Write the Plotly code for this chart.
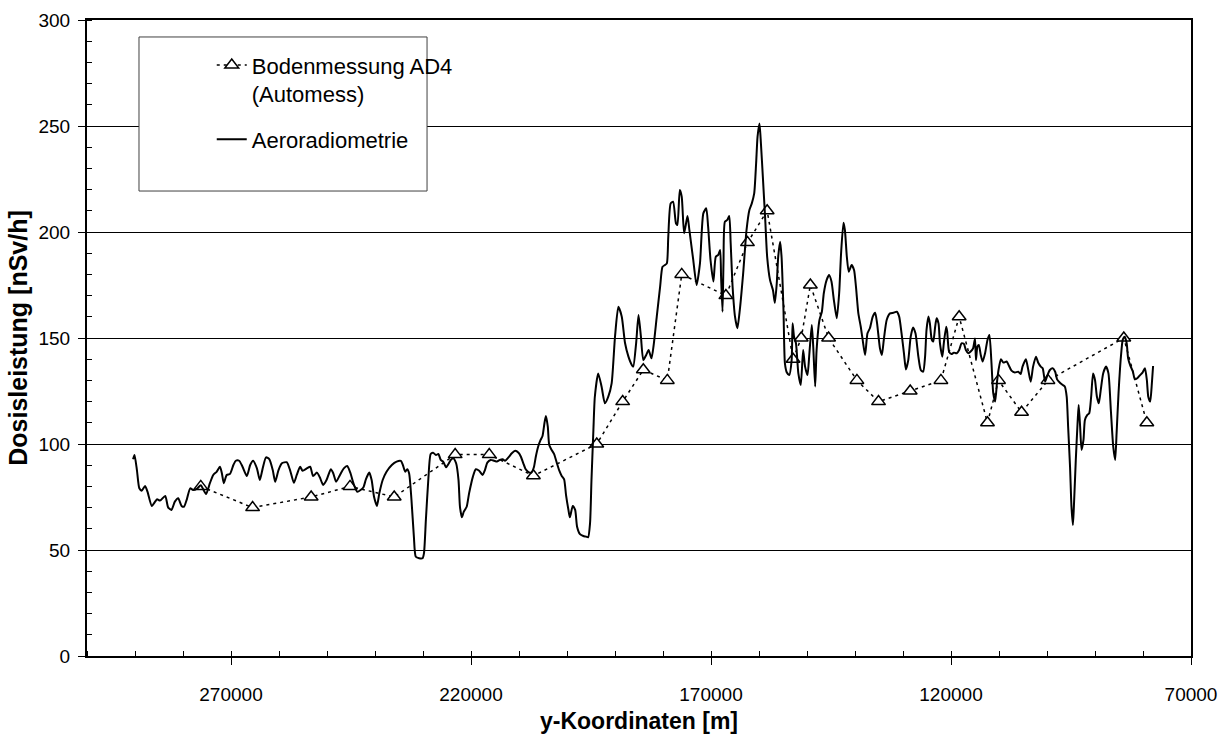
import plotly.graph_objects as go

# Bodenmessung AD4 (Automess) – ground measurements
boden_x = [276300, 265500, 253300, 245200, 236000, 223300, 216200, 207000, 193800,
           188400, 184100, 179100, 176100, 166900, 162400, 158300, 152900, 151200,
           149300, 145500, 139600, 135100, 128500, 122100, 118300, 112400, 110100,
           105300, 99800, 84000, 79200]
boden_y = [80, 70, 75, 80, 75, 95, 95, 85, 100,
           120, 135, 130, 180, 170, 195, 210, 140, 150,
           175, 150, 130, 120, 125, 130, 160, 110, 130,
           115, 130, 150, 110]

# Aeroradiometrie – airborne profile
aero_x = [290400, 290100, 289600, 289100, 288600, 287900, 287400, 286500, 285800, 285400,
          284800, 283700, 283100, 282400, 281700, 281000, 280300, 279800, 279200, 278500,
          277900, 277000, 276300, 275200, 274400, 273700, 273000, 272300, 271900, 271500,
          270900, 270200, 269500, 269000, 268300, 267600, 266700, 266000, 265400, 264600,
          264000, 263400, 262700, 262000, 261300, 260800, 260100, 259400, 258400, 257700,
          256900, 256300, 255600, 255100, 254200, 253500, 252900, 252100, 251500, 250800,
          250100, 249200, 248700, 248100, 247300, 246500, 245800, 245100, 244500, 243700,
          243000, 242400, 241900, 241200, 240700, 240200, 239600, 239100, 238400, 237600,
          236500, 235500, 234600, 234200, 233700, 233300, 232900, 232400, 231900, 231500,
          230800, 230100, 229800, 229400, 228900, 228400, 227900, 227300, 226800, 226300,
          225800, 225200, 224700, 224200, 223700, 223100, 222600, 222300, 221900, 221500,
          220900, 220400, 219600, 219000, 218300, 217600, 217100, 216600, 215900, 215200,
          214600, 214000, 213400, 212900, 212200, 211500, 210800, 210100, 209600, 209100,
          208600, 208100, 207400, 206900, 206500, 206000, 205500, 205100, 204700, 204400,
          204000, 203700, 203200, 202700, 202100, 201600, 201100, 200600, 200200, 199700,
          199400, 198800, 198300, 197900, 197300, 196600, 196000, 195600, 195200, 194900,
          194500, 194200, 193500, 192800, 192100, 191400, 190700, 190000, 189300, 188600,
          187900, 187200, 186500, 186200, 185600, 185100, 184600, 184100, 183500, 183000,
          182400, 181900, 181300, 180600, 180100, 179600, 179200, 178900, 178400, 177900,
          177300, 177000, 176500, 176100, 175600, 174900, 174500, 173700, 173000, 172300,
          171600, 171000, 170600, 170100, 169500, 169000, 168500, 168100, 167900, 167600,
          167400, 167100, 166600, 166200, 165900, 165500, 165000, 164500, 164000, 163300,
          162600, 162000, 161500, 161000, 160600, 160300, 159900, 159600, 159200, 158700,
          158300, 157700, 157100, 156700, 156300, 156000, 155600, 155300, 154900, 154600,
          154200, 153700, 153200, 153000, 152700, 152300, 151800, 151300, 150800, 150400,
          149900, 149500, 149000, 148700, 148300, 148000, 147400, 146900, 146500, 145900,
          145400, 144900, 144400, 143800, 143300, 142900, 142400, 142100, 141700, 141300,
          140700, 140200, 139800, 139300, 138800, 138400, 137900, 137400, 136900, 136300,
          135800, 135400, 134800, 134400, 134000, 133400, 132700, 132000, 131300, 130800,
          130300, 129800, 129400, 128900, 128400, 127900, 127400, 126800, 126300, 125800,
          125400, 125100, 124700, 124400, 124000, 123700, 123300, 123000, 122600, 122300,
          121800, 121500, 121000, 120800, 120400, 119900, 119400, 118800, 118300, 117800,
          117300, 116900, 116400, 115900, 115400, 115000, 114800, 114500, 114200, 113800,
          113400, 112900, 112400, 112000, 111600, 111200, 110800, 110400, 110100, 109600,
          109100, 108400, 107900, 107400, 106700, 106000, 105500, 105100, 104400, 103900,
          103400, 102900, 102300, 101800, 101300, 100900, 100400, 99900, 99400, 98800,
          98300, 97900, 97300, 96700, 96300, 95900, 95600, 95200, 94900, 94600,
          94400, 94000, 93600, 93400, 93100, 92800, 92400, 92100, 91600, 91200,
          90800, 90400, 90000, 89600, 89200, 88800, 88300, 87700, 87200, 86700,
          86200, 85800, 85500, 85100, 84600, 84200, 83800, 83400, 83100, 82700,
          82100, 81700, 81200, 80600, 80100, 79600, 79200, 78900, 78500, 78200,
          77900]
aero_y = [92.8, 94.8, 87.7, 79.1, 78.0, 80.2, 77.5, 70.8, 72.8, 74.0,
          73.3, 75.5, 70.1, 68.9, 72.8, 74.4, 70.8, 70.4, 73.9, 79.1,
          78.3, 79.1, 80.5, 76.4, 81.5, 85.4, 86.9, 89.3, 86.2, 81.5,
          85.4, 85.9, 90.1, 92.1, 92.1, 89.3, 84.9, 90.1, 92.1, 88.5,
          83.0, 88.5, 93.7, 92.8, 87.7, 82.2, 87.7, 90.9, 91.4, 87.7,
          81.7, 85.4, 89.3, 87.4, 88.5, 89.3, 84.9, 86.5, 84.3, 80.7,
          83.0, 88.1, 86.2, 82.2, 85.4, 88.5, 89.6, 86.2, 81.5, 77.5,
          78.3, 79.6, 83.3, 86.5, 83.0, 75.1, 70.8, 76.7, 83.0, 86.9,
          90.1, 91.7, 92.0, 90.1, 86.9, 88.1, 86.2, 73.6, 56.3, 46.8,
          46.1, 46.1, 48.4, 64.2, 83.0, 95.3, 95.9, 94.8, 95.3, 92.5,
          91.7, 89.0, 90.6, 92.5, 93.3, 90.9, 83.0, 70.4, 65.4, 68.1,
          70.4, 76.7, 84.6, 88.1, 87.4, 85.4, 87.7, 91.2, 92.5, 92.1,
          91.7, 92.5, 92.8, 92.1, 93.7, 95.6, 96.8, 95.9, 94.0, 90.9,
          88.1, 86.9, 86.5, 89.0, 94.0, 98.8, 101.9, 103.8, 109.8, 113.2,
          108.2, 99.5, 97.2, 95.3, 90.9, 87.4, 84.9, 83.3, 75.9, 68.9,
          65.4, 70.8, 68.9, 61.0, 57.5, 56.6, 56.3, 56.0, 62.6, 83.0,
          106.6, 122.3, 133.3, 127.1, 119.2, 122.3, 128.6, 150.6, 164.7, 160.1,
          147.5, 141.2, 137.3, 136.5, 147.5, 160.8, 150.6, 139.6, 142.0, 144.3,
          140.4, 147.5, 160.1, 174.2, 183.6, 184.4, 185.2, 197.8, 213.5, 214.3,
          204.1, 203.3, 219.8, 216.7, 199.4, 207.5, 200.9, 186.8, 175.0, 185.2,
          208.8, 211.2, 202.5, 186.8, 176.6, 188.3, 189.2, 191.5, 178.9, 162.4,
          185.2, 204.9, 205.7, 207.5, 194.7, 174.2, 160.1, 154.6, 163.2, 180.5,
          200.9, 210.4, 213.5, 218.2, 232.4, 245.0, 251.2, 241.8, 226.1, 205.7,
          188.3, 177.3, 172.6, 166.6, 175.8, 188.3, 195.4, 188.3, 163.2, 138.0,
          133.7, 132.5, 139.6, 156.9, 150.6, 147.5, 133.3, 127.8, 144.3, 136.5,
          132.5, 142.8, 156.1, 145.9, 127.1, 144.3, 158.5, 162.4, 171.1, 177.4,
          179.7, 176.6, 167.9, 159.3, 171.1, 190.0, 204.4, 200.9, 188.3, 181.3,
          184.4, 182.1, 174.2, 161.6, 155.3, 149.1, 142.0, 152.2, 154.6, 160.1,
          161.9, 156.9, 145.1, 142.0, 149.1, 158.5, 161.6, 161.9, 162.4, 160.1,
          152.2, 142.8, 135.2, 139.6, 150.6, 155.0, 152.2, 141.2, 134.9, 134.1,
          141.2, 153.8, 160.1, 156.9, 149.1, 148.3, 155.3, 159.3, 156.9, 147.5,
          141.2, 147.5, 155.3, 153.1, 143.6, 142.4, 143.1, 142.8, 144.3, 147.5,
          147.2, 144.3, 142.8, 143.6, 145.1, 149.8, 139.6, 145.9, 146.7, 142.0,
          138.9, 142.8, 149.1, 151.4, 139.5, 124.0, 120.0, 129.5, 134.9, 140.0,
          138.4, 138.9, 136.8, 134.6, 133.7, 134.1, 133.0, 136.5, 140.0, 134.9,
          129.4, 136.5, 141.2, 138.2, 136.5, 135.7, 129.4, 132.5, 134.9, 135.7,
          134.1, 130.5, 128.9, 127.8, 127.1, 122.3, 108.2, 89.3, 70.4, 61.8,
          70.4, 92.5, 111.3, 118.4, 108.2, 97.2, 101.9, 111.3, 113.7, 114.5,
          122.3, 133.3, 130.2, 122.3, 119.2, 125.5, 133.3, 136.5, 133.3, 116.0,
          98.7, 92.5, 105.1, 123.9, 141.2, 149.4, 150.6, 147.5, 140.4, 137.3,
          134.1, 130.5, 131.0, 132.5, 133.7, 135.7, 130.2, 122.3, 120.0, 127.1,
          136.8]

FONT = "Liberation Sans, Arial, sans-serif"

fig = go.Figure()
fig.add_trace(go.Scatter(
    x=boden_x, y=boden_y, mode="lines+markers",
    name="Bodenmessung AD4<br>(Automess)", legendgroup="a",
    line=dict(color="black", width=1.5, dash="3px,4px"),
    marker=dict(symbol="triangle-up", size=12, color="white",
                line=dict(color="black", width=1.5)),
))
fig.add_trace(go.Scatter(
    x=aero_x, y=aero_y, mode="lines", name="Aeroradiometrie", legendgroup="b",
    line=dict(color="black", width=2, shape="spline", smoothing=0.6),
))

fig.update_layout(
    width=1228, height=734,
    margin=dict(l=87, r=37, t=20, b=78, pad=0, autoexpand=False),
    paper_bgcolor="white", plot_bgcolor="white",
    font=dict(family=FONT, color="black", size=19),
    showlegend=True,
    legend=dict(
        x=0.113, y=0.962, xanchor="left", yanchor="top",
        bgcolor="rgba(0,0,0,0)", borderwidth=0,
        font=dict(size=22, family=FONT, color="black"),
        traceorder="grouped", tracegroupgap=14, valign="top",
    ),
    shapes=[dict(type="rect", xref="paper", yref="paper",
                 x0=0.0471, x1=0.308, y0=0.7311, y1=0.9733,
                 line=dict(color="#404040", width=1), fillcolor="white",
                 layer="above")],
)

fig.update_xaxes(
    range=[300000, 70000], autorange=False, automargin=False,
    tick0=70000, dtick=50000, tickformat="d",
    showgrid=False, zeroline=False,
    showline=True, linecolor="black", linewidth=2, mirror=True,
    ticks="outside", ticklen=7, tickwidth=1, tickcolor="black",
    ticklabelstandoff=13,
    minor=dict(dtick=10000, ticks="inside", ticklen=5, tickcolor="black", tickwidth=1, showgrid=False),
    title=dict(text="<b>y-Koordinaten [m]</b>", font=dict(size=23, family=FONT), standoff=12),
    tickfont=dict(size=19, family=FONT),
)
fig.update_yaxes(
    range=[0, 300], autorange=False, automargin=False, dtick=50,
    showgrid=True, gridcolor="black", gridwidth=1, zeroline=False,
    showline=True, linecolor="black", linewidth=2, mirror=True,
    ticks="outside", ticklen=7, tickwidth=1, tickcolor="black",
    ticklabelstandoff=4,
    minor=dict(dtick=10, ticks="inside", ticklen=5, tickcolor="black", tickwidth=1, showgrid=False),
    title=dict(text="<b>Dosisleistung [nSv/h]</b>", font=dict(size=25, family=FONT), standoff=4),
    tickfont=dict(size=19, family=FONT),
)

fig.write_html("out.html")
